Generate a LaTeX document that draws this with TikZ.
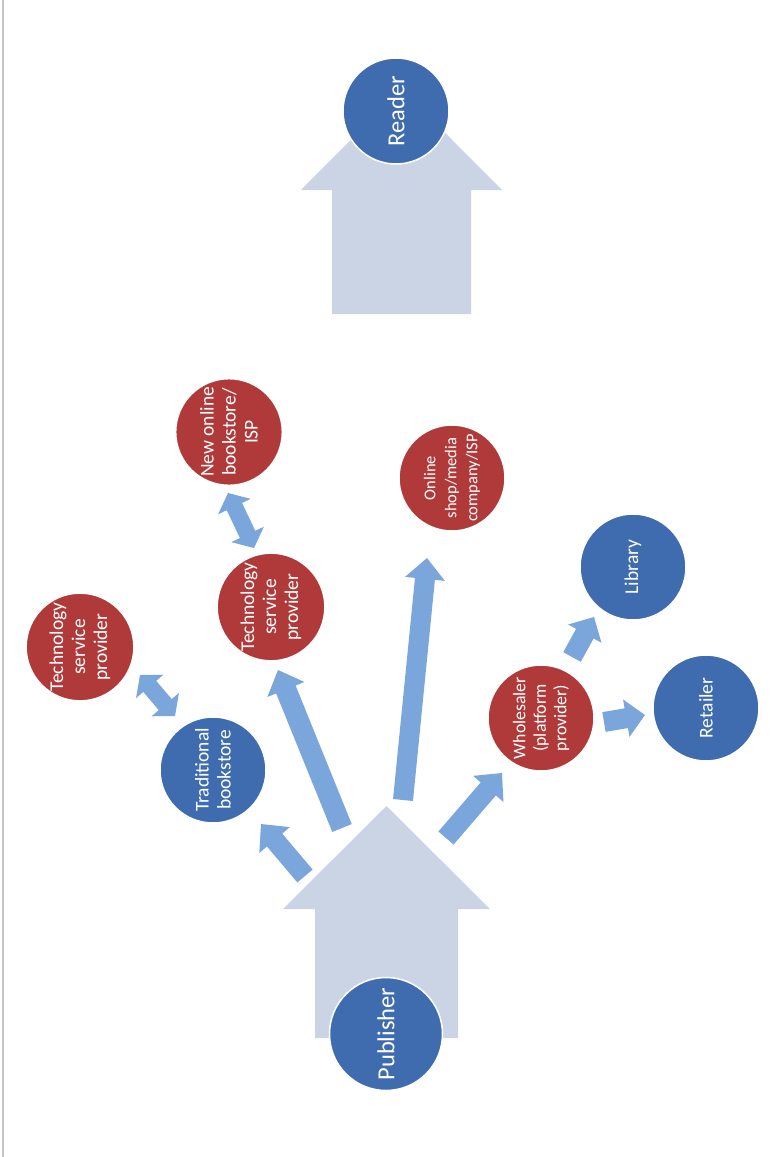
\documentclass[tikz,border=0pt]{standalone}
\usepackage{fontspec}
\setmainfont{Carlito}
\usetikzlibrary{calc}
\definecolor{circblue}{HTML}{3F6CAF}
\definecolor{circred}{HTML}{B03A3A}
\definecolor{arrblue}{HTML}{7BA6DC}
\definecolor{housegray}{HTML}{CBD4E5}
\definecolor{edgegray}{HTML}{C4C4C4}
% single block arrow: start, end, half shaft, half head, head length
\newcommand\blockarrow[5]{%
  \coordinate (ba-h) at ($(#2)!#5!(#1)$);
  \fill[arrblue] ($(#1)!#3!90:(#2)$) -- ($(ba-h)!#3!90:(#2)$) -- ($(ba-h)!#4!90:(#2)$) -- (#2)
    -- ($(ba-h)!#4!-90:(#2)$) -- ($(ba-h)!#3!-90:(#2)$) -- ($(#1)!#3!-90:(#2)$) -- cycle;}
% double block arrow
\newcommand\dblarrow[5]{%
  \coordinate (da-h1) at ($(#1)!#5!(#2)$);
  \coordinate (da-h2) at ($(#2)!#5!(#1)$);
  \fill[arrblue] (#1) -- ($(da-h1)!#4!90:(#2)$) -- ($(da-h1)!#3!90:(#2)$) -- ($(da-h2)!#3!90:(#2)$)
    -- ($(da-h2)!#4!90:(#2)$) -- (#2) -- ($(da-h2)!#4!-90:(#2)$) -- ($(da-h2)!#3!-90:(#2)$)
    -- ($(da-h1)!#3!-90:(#2)$) -- ($(da-h1)!#4!-90:(#2)$) -- cycle;}
\tikzset{
  circ/.style={circle, minimum size=106pt, inner sep=0pt, draw=white, line width=1.5pt,
    text=white, align=center, rotate=90, font=\fontsize{19.5}{22}\selectfont},
  bluec/.style={circ, fill=circblue},
  redc/.style={circ, fill=circred},
  bigc/.style={font=\fontsize{24.5}{29}\selectfont},
  house/.style={fill=housegray}
}
\begin{document}
\begin{tikzpicture}[x=1pt,y=-1pt]
\useasboundingbox (0,0) rectangle (783,1157);
\fill[white] (0,0) rectangle (783,1157);
\draw[edgegray, line width=1.5pt] (3,0) -- (3,1157);

% big house arrows
\fill[house] (401.5,89) -- (502,190) -- (471,190) -- (471,314) -- (332,314) -- (332,190) -- (301,190) -- cycle;
\fill[house] (386.5,806) -- (490,909) -- (458,909) -- (458,1038) -- (315,1038) -- (315,909) -- (283,909) -- cycle;

% circles
\node[bluec, bigc, minimum size=106pt] (reader) at (396,111) {Reader};
\node[bluec, bigc, minimum size=113pt] (pub) at (386,1034) {Publisher};
\node[redc] (tsp1) at (80,647) {Technology\\service\\provider};
\node[bluec] (trad) at (213,770) {Traditional\\bookstore};
\node[redc] (tsp2) at (271,607) {Technology\\service\\provider};
\node[redc] (newol) at (229,432) {New online\\bookstore/\\ISP};
\node[redc, font=\fontsize{16.5}{21}\selectfont] (onl) at (452,478) {Online\\shop/media\\company/ISP};
\node[redc, font=\fontsize{17.8}{20.5}\selectfont] (whole) at (541,718) {Wholesaler\\(platform\\provider)};
\node[bluec] (lib) at (633,567) {Library};
\node[bluec] (ret) at (706,708) {Retailer};

% connector end points
\coordinate (a1s) at (305,876);  \coordinate (a1e) at (261,824);
\coordinate (a2s) at (342,828);  \coordinate (a2e) at (278,670);
\coordinate (a3s) at (403,800);  \coordinate (a3e) at (427,558);
\coordinate (a4s) at (446,838);  \coordinate (a4e) at (502,773);
\coordinate (a5s) at (604,722);  \coordinate (a5e) at (645,715);
\coordinate (a6s) at (572,657);  \coordinate (a6e) at (594,617);
\coordinate (d1a) at (140,675);  \coordinate (d1b) at (175,716);
\coordinate (d2a) at (228,493);  \coordinate (d2b) at (254,548);

\blockarrow{a1s}{a1e}{10pt}{20pt}{21pt}
\blockarrow{a2s}{a2e}{10.5pt}{20pt}{21pt}
\blockarrow{a3s}{a3e}{10pt}{20pt}{21pt}
\blockarrow{a4s}{a4e}{10pt}{20pt}{21pt}
\blockarrow{a5s}{a5e}{10pt}{19pt}{19pt}
\blockarrow{a6s}{a6e}{10pt}{19pt}{19pt}
\dblarrow{d1a}{d1b}{8.5pt}{18pt}{15pt}
\dblarrow{d2a}{d2b}{8.5pt}{18pt}{15pt}
\end{tikzpicture}
\end{document}
